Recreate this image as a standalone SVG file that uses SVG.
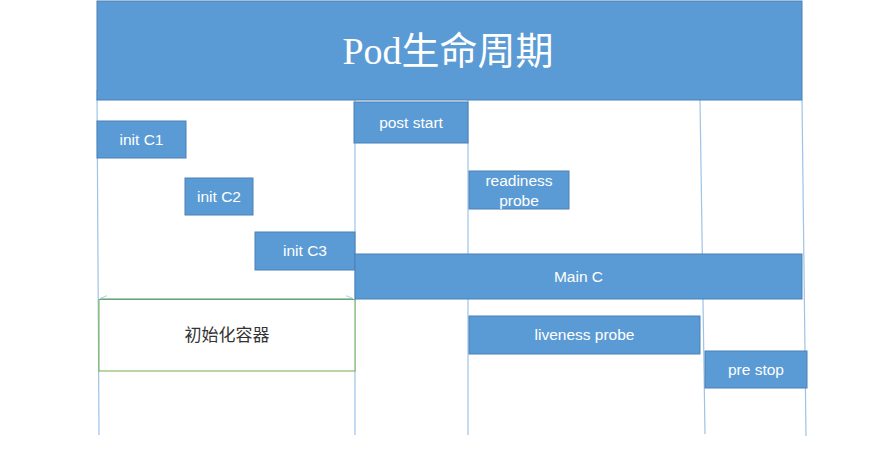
<svg xmlns="http://www.w3.org/2000/svg" width="894" height="463" viewBox="0 0 894 463">
<style>
.bar{fill:#5b9bd5;stroke:#4a80b5;stroke-width:1}
.lbl{font-family:"Liberation Sans","Noto Sans CJK SC",sans-serif;font-size:15.5px;fill:#ffffff;text-anchor:middle}
.vl{stroke:#9dc3e6;stroke-width:1.2;fill:none}
</style>
<defs>
<marker id="ah" viewBox="0 0 10 10" refX="10" refY="5" markerWidth="7" markerHeight="7" orient="auto-start-reverse" markerUnits="userSpaceOnUse">
<path d="M0,1 L10,5 L0,9" fill="none" stroke="#9dc3e6" stroke-width="1.2"/>
</marker>
</defs>
<rect width="894" height="463" fill="#ffffff"/>
<g id="connectors">
<line class="vl" x1="97" y1="90" x2="99" y2="435"/>
<line class="vl" x1="355" y1="100" x2="355" y2="435"/>
<line class="vl" x1="468" y1="100" x2="468" y2="435"/>
<line class="vl" x1="700" y1="100" x2="705" y2="434"/>
<line class="vl" x1="802" y1="100" x2="806" y2="436"/>
<line x1="100" y1="298.5" x2="353" y2="298.5" stroke="#9dc3e6" stroke-width="1" marker-start="url(#ah)" marker-end="url(#ah)"/>
</g>
<g id="title">
<rect class="bar" x="97" y="1" width="705" height="99"/>
<text x="448" y="64" font-family="'Liberation Serif','Noto Sans CJK SC',serif" font-size="38" fill="#ffffff" text-anchor="middle">Pod生命周期</text>
</g>
<g id="init-c1">
<rect class="bar" x="97" y="121" width="89" height="37"/>
<text class="lbl" x="141.5" y="145">init C1</text>
</g>
<g id="init-c2">
<rect class="bar" x="185" y="178" width="68" height="37"/>
<text class="lbl" x="219" y="202">init C2</text>
</g>
<g id="init-c3">
<rect class="bar" x="255" y="232" width="100" height="38"/>
<text class="lbl" x="305" y="256">init C3</text>
</g>
<g id="post-start">
<rect class="bar" x="354" y="102" width="114" height="41"/>
<text class="lbl" x="411" y="128">post start</text>
</g>
<g id="readiness-probe">
<rect class="bar" x="469" y="171" width="100" height="38"/>
<text class="lbl" x="519" y="186">readiness</text>
<text class="lbl" x="519" y="206">probe</text>
</g>
<g id="main-c">
<rect class="bar" x="355" y="254" width="447" height="45"/>
<text class="lbl" x="578.5" y="282">Main C</text>
</g>
<g id="liveness-probe">
<rect class="bar" x="469" y="316" width="231" height="38"/>
<text class="lbl" x="584.5" y="340">liveness probe</text>
</g>
<g id="pre-stop">
<rect class="bar" x="705" y="351" width="102" height="37"/>
<text class="lbl" x="756" y="375">pre stop</text>
</g>
<g id="init-containers">
<rect x="99" y="299.5" width="256" height="71.5" fill="#ffffff" stroke="#70ad47" stroke-width="1"/>
<text x="227" y="341" font-family="'Noto Sans CJK SC',sans-serif" font-size="17" fill="#333333" text-anchor="middle">初始化容器</text>
</g>
</svg>
